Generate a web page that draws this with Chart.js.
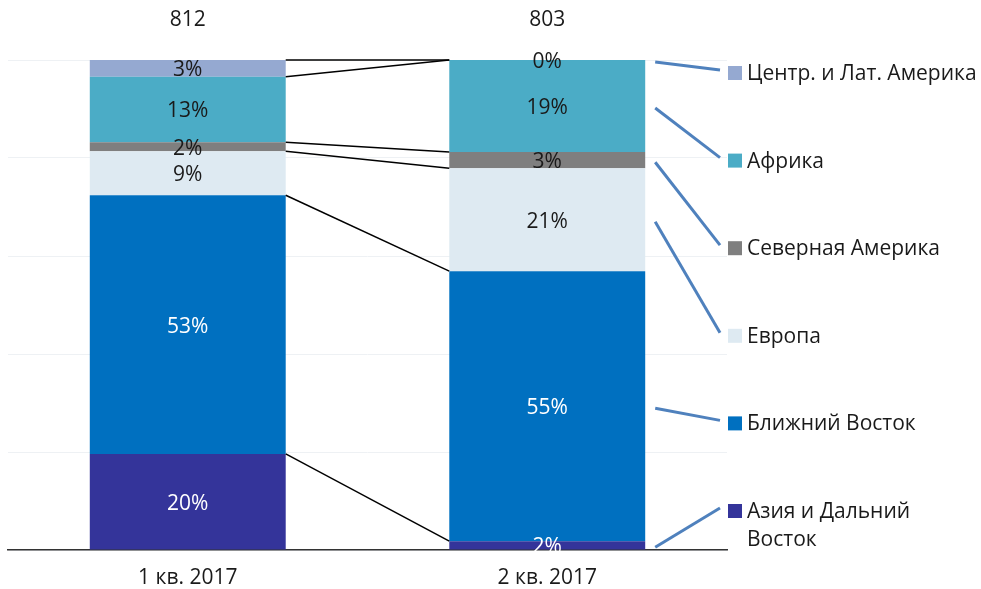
<!DOCTYPE html>
<html>
<head>
<meta charset="utf-8">
<script src="https://cdn.jsdelivr.net/npm/chart.js@4"></script>
<style>
    html, body { margin: 0; padding: 0; background: #fff; }
</style>
</head>
<body>
<canvas id="chart" width="981" height="589"></canvas>
<script>
// данные
const categories = ['1 кв. 2017', '2 кв. 2017'];
const totals = [812, 803];

// снизу вверх
const regions = ['Азия и Дальний Восток', 'Ближний Восток', 'Европа', 'Северная Америка', 'Африка', 'Центр. и Лат. Америка'];
const asia = [19.6, 1.8];
const middleEast = [52.8, 55.1];
const europe = [9.0, 21.0];
const northAmerica = [1.8, 3.3];
const africa = [13.4, 18.8];
const latAmerica = [3.4, 0.0];

const colors = ['#34349A', '#0070C0', '#DEEAF2', '#7F7F7F', '#4BACC6', '#95A9D1'];
const labelColors = ['#fff', '#fff', '#1a1a1a', '#1a1a1a', '#1a1a1a', '#1a1a1a'];
const legendLines = [['Азия и Дальний', 'Восток'], ['Ближний Восток'], ['Европа'], ['Северная Америка'], ['Африка'], ['Центр. и Лат. Америка']];

const FONT = '"Open Sans", "Noto Sans", sans-serif';
const SIZE = 21;

/**
 * подписи, соединительные линии, легенда
 */
const overlay = {
    id: 'overlay',
    afterDatasetsDraw(chart) {
        let ctx = chart.ctx;
        let area = chart.chartArea;
        let metas = chart.data.datasets.map((d, i) => chart.getDatasetMeta(i));

        ctx.save();

        // линии между столбцами
        ctx.strokeStyle = '#000';
        ctx.lineWidth = 1.5;
        metas.forEach(function (meta) {
            let a = meta.data[0], b = meta.data[1];
            ctx.beginPath();
            ctx.moveTo(a.x + a.width / 2, a.y);
            ctx.lineTo(b.x - b.width / 2, b.y);
            ctx.stroke();
        });

        // проценты
        ctx.font = SIZE + 'px ' + FONT;
        ctx.textAlign = 'center';
        ctx.textBaseline = 'middle';
        metas.forEach(function (meta, i) {
            meta.data.forEach(function (el, j) {
                let v = chart.data.datasets[i].data[j];
                ctx.fillStyle = labelColors[i];
                ctx.fillText(Math.round(v) + '%', el.x, (el.y + el.base) / 2 + 2);
            });
        });

        // итоги
        ctx.fillStyle = '#1a1a1a';
        metas[0].data.forEach(function (el, j) {
            ctx.fillText(String(totals[j]), el.x, area.top - 40);
        });

        // легенда
        let n = regions.length;
        let last = metas.map(m => m.data[1]);
        ctx.textAlign = 'left';
        for (let k = 0; k < n; k++) {
            let i = n - 1 - k;
            let y = 73 + k * 87.6;
            let el = last[i];

            ctx.strokeStyle = '#4F81BD';
            ctx.lineWidth = 3;
            ctx.beginPath();
            ctx.moveTo(el.x + el.width / 2 + 10, (el.y + el.base) / 2 + 2);
            ctx.lineTo(720, y - 3);
            ctx.stroke();

            ctx.fillStyle = colors[i];
            ctx.fillRect(728, y - 7, 14, 14);
            ctx.fillStyle = '#1a1a1a';
            legendLines[i].forEach(function (line, l) {
                ctx.fillText(line, 747, y + 1 + l * 28);
            });
        }

        ctx.restore();
    }
};

function init() {
    let series = [asia, middleEast, europe, northAmerica, africa, latAmerica];
    let config = {
        type: 'bar',
        data: {
            labels: categories,
            datasets: series.map(function (data, i) {
                return {
                    label: regions[i],
                    data: data,
                    backgroundColor: colors[i],
                    borderWidth: 0,
                    categoryPercentage: 1,
                    barPercentage: 0.545
                };
            })
        },
        options: {
            responsive: false,
            animation: false,
            layout: { padding: { top: 60, left: 8, right: 254, bottom: 0 } },
            plugins: {
                legend: { display: false },
                tooltip: { enabled: false }
            },
            scales: {
                x: {
                    stacked: true,
                    grid: { display: false, drawTicks: false },
                    border: { display: true, color: '#333', width: 1.5 },
                    ticks: { color: '#1a1a1a', font: { family: FONT, size: SIZE }, padding: 15 },
                    afterFit: function (scale) { scale.height = 39; }
                },
                y: {
                    stacked: true,
                    min: 0,
                    max: 100,
                    ticks: { display: false, stepSize: 20 },
                    grid: { color: '#eef1f4', drawTicks: false },
                    border: { display: false }
                }
            }
        },
        plugins: [overlay]
    };
    new Chart(document.getElementById('chart').getContext('2d'), config);
}

init();
</script>
</body>
</html>
